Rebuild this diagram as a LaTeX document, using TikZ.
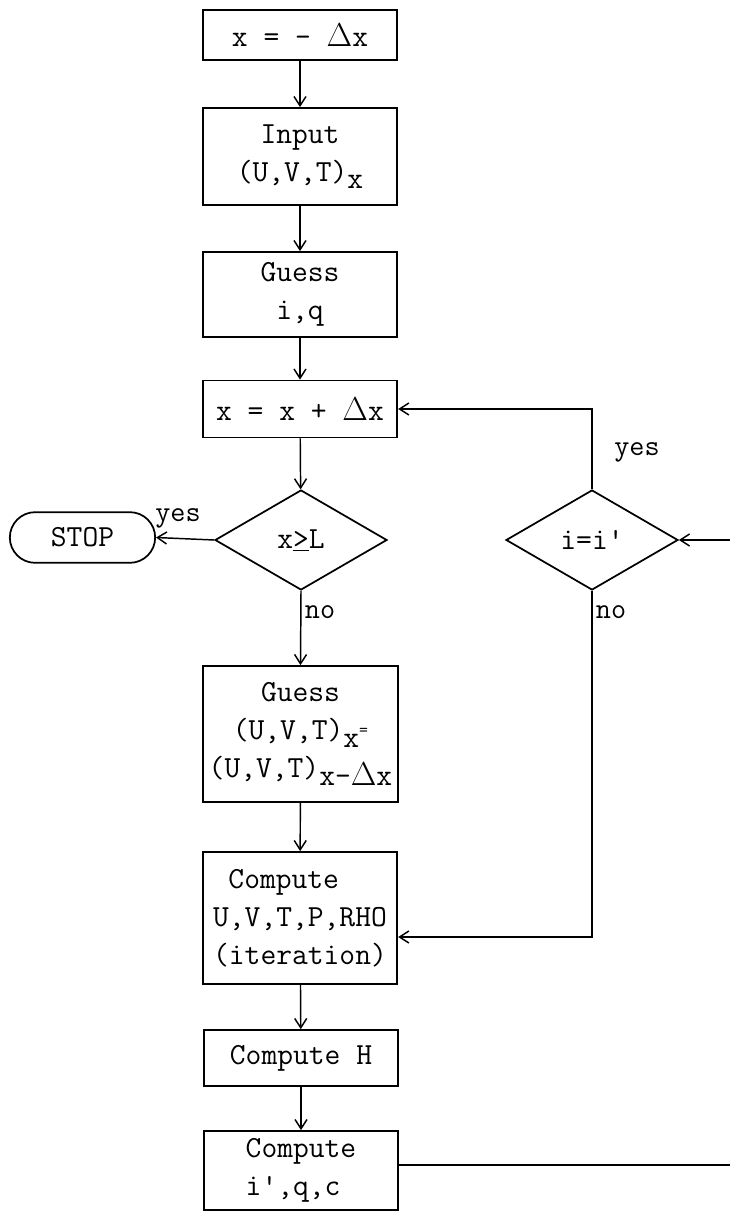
\documentclass[tikz,border=0pt]{standalone}
\usepackage{fontspec}
\usetikzlibrary{shapes.geometric,arrows.meta}
\newcommand{\sbx}{\raisebox{-0.55ex}{x}}
\newcommand{\Dl}{\ensuremath{\Delta}}
\newcommand{\pr}{\textquotesingle}
\begin{document}
\begin{tikzpicture}[x=0.75pt,y=-0.75pt,
  font=\ttfamily\fontsize{23}{28.5}\selectfont,
  box/.style={draw,line width=1.3pt,minimum width=146pt,inner sep=0pt,align=center},
  dec/.style={draw,diamond,line width=1.3pt,inner sep=0pt,minimum width=129pt,minimum height=75pt,aspect=1.72},
  term/.style={draw,line width=1.3pt,rounded corners=19pt,minimum width=109pt,minimum height=38pt,inner sep=0pt},
  conn/.style={line width=1.1pt},
  arr/.style={conn,-{Straight Barb[length=7pt,width=9pt,line width=1.1pt]}},
  lbl/.style={inner sep=0pt,font=\ttfamily\fontsize{22}{22}\selectfont}]
\useasboundingbox (0,0) rectangle (730,1212);
\node[box,minimum height=37.5pt] (b1) at (300,35) {x = - \Dl x};
\node[box,minimum height=72.75pt] (b2) at (300,156.5) {Input\\(U,V,T)\sbx};
\node[box,minimum height=63.75pt] (b3) at (300,294.5) {Guess\\i,q};
\node[box,minimum height=42.75pt] (b4) at (300,409) {x = x + \Dl x};
\node[dec] (d1) at (301,540) {x\underline{>}L};
\node[term] (stop) at (82.5,537.5) {STOP};
\node[box,minimum height=102pt] (b5) at (300.5,734) {Guess\\(U,V,T)\raisebox{-0.55ex}{x\raisebox{0.9ex}{\fontsize{13}{13}\selectfont =}}\\(U,V,T)\raisebox{-0.55ex}{x-\Dl x}};
\node[box,minimum height=99pt,align=left] (b6) at (300,918) {\hspace{0.5em}Compute\\U,V,T,P,RHO\\(iteration)};
\node[box,minimum height=42pt] (b7) at (301,1058) {Compute H};
\node[box,minimum height=59.25pt,align=left] (b8) at (301,1170.5) {Compute\\i\pr,q,c};
\node[dec] (d2) at (592,540) {i=i\pr};
\coordinate (r1) at (730,1165);
\coordinate (r2) at (730,540);
\coordinate (c1) at (592,937);
\draw[arr] (b1) -- (b2);
\draw[arr] (b2) -- (b3);
\draw[arr] (b3) -- (b4);
\draw[arr] (b4) -- (d1);
\draw[arr] (d1.west) -- (stop.east);
\node[lbl] (yes1) at (178,518) {yes};
\draw[arr] (d1.south) -- (b5.north);
\node[lbl] (no1) at (320,612) {no};
\draw[arr] (b5) -- (b6);
\draw[arr] (b6) -- (b7);
\draw[arr] (b7) -- (b8);
\draw[conn] (r1 -| b8.east) -- (r1);
\draw[arr] (r2) -- (d2.east);
\draw[arr] (d2.north) -- (d2.north |- b4.east) -- (b4.east);
\node[lbl] (yes2) at (637,452) {yes};
\draw[arr] (d2.south) -- (c1) -- (c1 -| b6.east);
\node[lbl] (no2) at (611,612) {no};
\end{tikzpicture}
\end{document}
